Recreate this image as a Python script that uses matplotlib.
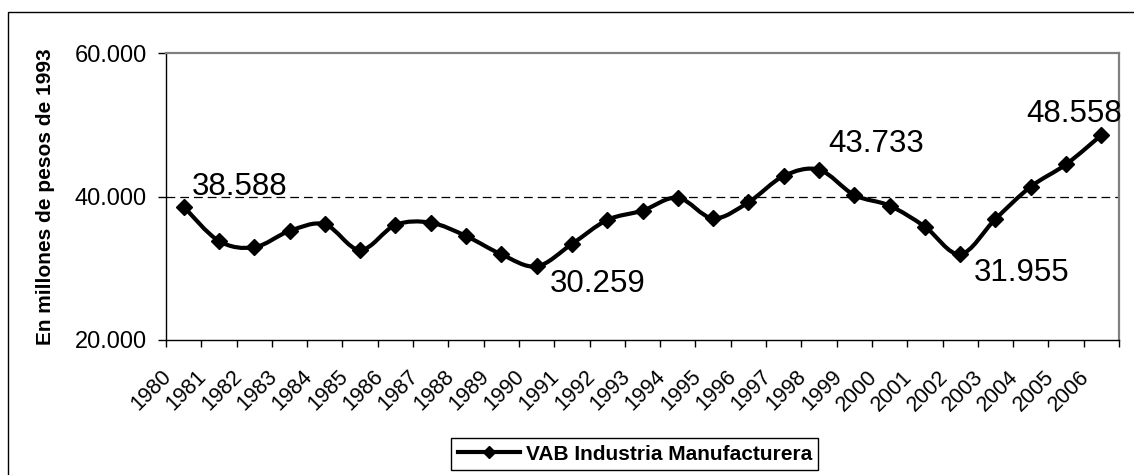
import numpy as np
import matplotlib
matplotlib.use('Agg')
import matplotlib.pyplot as plt
from matplotlib.path import Path
from matplotlib.patches import PathPatch, Rectangle
from matplotlib.lines import Line2D
from matplotlib.ticker import FuncFormatter
from matplotlib.transforms import ScaledTranslation

plt.rcParams['font.family'] = ['Liberation Sans', 'DejaVu Sans']

years = [str(y) for y in range(1980, 2007)]
vab = [38588, 33800, 32920, 35190, 36125, 32543, 36028, 36350, 34495, 31940,
       30259, 33380, 36725, 38025, 39837, 36957, 39187, 42857, 43733, 40209,
       38722, 35795, 31955, 36864, 41370, 44483, 48558]
# puntos con etiqueta de valor
label_years = ['1980', '1990', '1998', '2002', '2006']
serie = 'VAB Industria Manufacturera'
ylabel = 'En millones de pesos de 1993'
yticks = [20000, 40000, 60000]

def miles(v, pos=None):
    return f'{int(round(v)):,}'.replace(',', '.')

fig = plt.figure(figsize=(11.34, 4.75), dpi=100)
ax = fig.add_axes([166 / 1134, 1 - 340 / 475, 953 / 1134, 287 / 475])

x = np.arange(len(years)) + 0.5
y = np.array(vab, dtype=float)

# linea suavizada tipo Excel (Catmull-Rom -> Bezier)
pts = np.column_stack([x, y])
verts = [pts[0]]
codes = [Path.MOVETO]
for i in range(len(pts) - 1):
    p0 = pts[i - 1] if i > 0 else pts[i]
    p1 = pts[i]
    p2 = pts[i + 1]
    p3 = pts[i + 2] if i + 2 < len(pts) else pts[i + 1]
    verts += [p1 + (p2 - p0) / 6, p2 - (p3 - p1) / 6, p2]
    codes += [Path.CURVE4] * 3
ax.add_patch(PathPatch(Path(verts, codes), fill=False, edgecolor='black',
                       lw=3, capstyle='round', joinstyle='round', zorder=3))
ax.plot(x, y, ls='none', marker='D', ms=8.5, color='black', zorder=4)

offsets = {'1980': (8, 12, 'left'), '1990': (13, -26, 'left'),
           '1998': (9, 18, 'left'), '2002': (14, -27, 'left'),
           '2006': (21, 13, 'right')}
for yr in label_years:
    i = years.index(yr)
    dx, dy, ha = offsets[yr]
    ax.annotate(miles(vab[i]), xy=(x[i], y[i]), xytext=(dx, dy),
                textcoords='offset pixels', ha=ha, va='baseline', fontsize=22.5)

ax.set_xlim(0, len(years))
ax.set_ylim(20000, 60000)
ax.set_yticks(yticks)
ax.yaxis.set_major_formatter(FuncFormatter(miles))
ax.axhline(40000, color='black', lw=0.9, ls=(0, (7, 4)), zorder=1)

ax.set_xticks(np.arange(len(years) + 1))
ax.set_xticklabels([])
ax.set_xticks(x, minor=True)
ax.set_xticklabels(years, minor=True, rotation=45, ha='right', va='top', fontsize=15.5)
ax.tick_params(axis='x', which='major', direction='out', length=5, width=1, color='black')
ax.tick_params(axis='x', which='minor', length=0, pad=19)
ax.tick_params(axis='y', direction='out', length=6, width=1, pad=8, labelsize=17)
shift = ScaledTranslation(-8 / 100, 0, fig.dpi_scale_trans)
for lab in ax.get_xticklabels(minor=True):
    lab.set_transform(lab.get_transform() + shift)

ax.set_ylabel(ylabel, fontsize=15, fontweight='bold')
ax.yaxis.set_label_coords(-0.1165, 0.5)

for s in ['top', 'right']:
    ax.spines[s].set_color('#808080')
    ax.spines[s].set_linewidth(1.6)
for s in ['left', 'bottom']:
    ax.spines[s].set_color('black')
    ax.spines[s].set_linewidth(1)

handle = Line2D([], [], color='black', lw=3, marker='D', ms=6.5)
fig.legend([handle], [serie], loc='center', bbox_to_anchor=(634.9 / 1134, 1 - 454.2 / 475),
           frameon=True, fancybox=False, edgecolor='black', framealpha=1,
           prop={'weight': 'bold', 'size': 15}, handlelength=3.0,
           handletextpad=0.27, borderpad=0.3, borderaxespad=0)
fig.legends[0].get_frame().set_linewidth(1)

fig.patches.append(Rectangle((8 / 1134, -0.1), 1.2, 1 - 12 / 475 + 0.1,
                             transform=fig.transFigure, fill=False,
                             edgecolor='black', lw=1))

fig.savefig('out.png', dpi=100)
